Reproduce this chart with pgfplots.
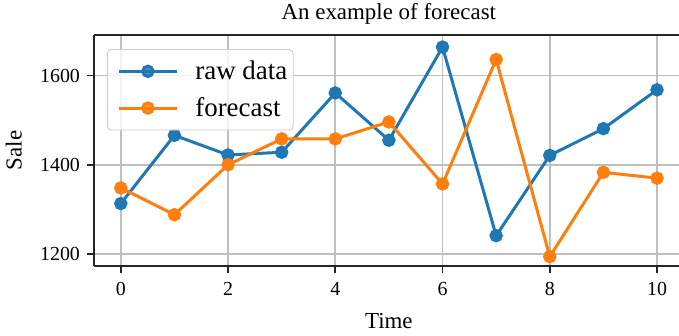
\documentclass[border=0pt]{standalone}
\usepackage{fontspec}
\setmainfont{Liberation Serif}
\usepackage{pgfplots}
\pgfplotsset{compat=1.18}
\definecolor{mplblue}{HTML}{1F77B4}
\definecolor{mplorange}{HTML}{FF7F0E}
\begin{document}
\begin{tikzpicture}
\begin{axis}[
  name=ax,
  scale only axis,
  width=292.5bp, height=115.5bp,
  xmin=-0.5, xmax=10.41,
  ymin=1173, ymax=1691,
  xtick={0,2,4,6,8,10},
  ytick={1200,1400,1600},
  axis x line=box,
  axis y line*=left,
  axis line style={-, line width=0.9bp, black!85},
  tick pos=left,
  tick align=outside,
  major tick length=3.5bp,
  every tick/.style={black!85, line width=0.9bp},
  grid=major,
  major grid style={line width=0.8bp, color=black!25},
  /pgf/number format/assume math mode=true,
  /pgf/number format/set thousands separator={},
  tick label style={font=\fontsize{10}{12}\selectfont},
  xticklabel style={yshift=-1bp},
  every axis title shift=0pt,
  title={An example of forecast},
  title style={font=\fontsize{11.5}{14}\selectfont, at={(axis description cs:0.504,1.091)}, anchor=center},
  xlabel={Time},
  xlabel style={font=\fontsize{11.5}{14}\selectfont, at={(axis description cs:0.504,-0.238)}, anchor=center},
  ylabel={Sale},
  ylabel style={font=\fontsize{11.5}{14}\selectfont, at={(axis description cs:-0.137,0.5)}, anchor=center},
  legend style={at={(axis description cs:0.0222,0.939)}, anchor=north west,
    font=\fontsize{13.5}{16}\selectfont,
    draw=black!20, rounded corners=2bp, fill=white, fill opacity=0.8, text opacity=1,
    inner xsep=1bp, inner ysep=3.5bp, row sep=3.5bp, column sep=6.5bp,
    legend cell align=left},
  legend image code/.code={\path (0bp,0bp); \draw[mark repeat=2,mark phase=2] plot coordinates {(4bp,0bp) (18.5bp,0bp) (33bp,0bp)};},
]
\addplot[color=mplblue, line width=1.5bp, mark=*, mark size=2.6bp, mark options={solid, draw=mplblue, fill=mplblue}]
coordinates {(0,1313) (1,1466) (2,1422) (3,1428) (4,1561) (5,1455) (6,1664) (7,1241) (8,1421) (9,1481) (10,1568)};
\addlegendentry{raw data}
\addplot[color=mplorange, line width=1.5bp, mark=*, mark size=2.6bp, mark options={solid, draw=mplorange, fill=mplorange}]
coordinates {(0,1348) (1,1288) (2,1400) (3,1458) (4,1458) (5,1496) (6,1357) (7,1636) (8,1194) (9,1383) (10,1370)};
\addlegendentry{forecast}
\end{axis}
\pgfresetboundingbox
\path[use as bounding box] ([shift={(-47bp,-35bp)}]ax.south west) rectangle ([shift={(292.5bp,133bp)}]ax.south west);
\end{tikzpicture}
\end{document}
